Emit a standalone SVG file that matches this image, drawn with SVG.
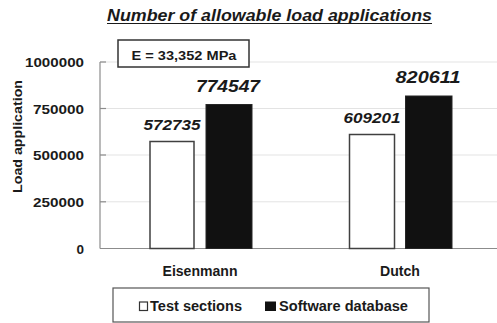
<svg xmlns="http://www.w3.org/2000/svg" width="497" height="323" viewBox="0 0 497 323">
<style>
text{font-family:"Liberation Sans",Arial,sans-serif;font-weight:bold;fill:#1a1a1a}
.grid{stroke:#e3e3e3;stroke-width:1}
.axis{stroke:#8c8c8c;stroke-width:1.2}
.tick{font-size:13.5px;text-anchor:end}
.val{font-style:italic;text-anchor:middle}
.white{fill:#ffffff;stroke:#404040;stroke-width:1.5}
.black{fill:#111111;stroke:#262626;stroke-width:1}
.cat{font-size:14px;text-anchor:middle}
</style>
<rect width="497" height="323" fill="#ffffff"/>
<g id="title">
<text x="269.5" y="21" font-size="16" font-style="italic" text-anchor="middle" textLength="325" lengthAdjust="spacingAndGlyphs">Number of allowable load applications</text>
<line x1="107" y1="23.5" x2="432" y2="23.5" stroke="#1a1a1a" stroke-width="1.2"/>
</g>
<g id="gridlines">
<line class="grid" x1="100" y1="62" x2="497" y2="62"/>
<line class="grid" x1="100" y1="108.5" x2="497" y2="108.5"/>
<line class="grid" x1="100" y1="155" x2="497" y2="155"/>
<line class="grid" x1="100" y1="201.8" x2="497" y2="201.8"/>
</g>
<g id="axes">
<line class="axis" x1="100" y1="62" x2="100" y2="248.5"/>
<line class="axis" x1="100" y1="248.5" x2="497" y2="248.5"/>
<line class="axis" x1="100" y1="62" x2="106" y2="62"/>
<line class="axis" x1="100" y1="108.5" x2="106" y2="108.5"/>
<line class="axis" x1="100" y1="155" x2="106" y2="155"/>
<line class="axis" x1="100" y1="201.8" x2="106" y2="201.8"/>
</g>
<g id="y-labels">
<text class="tick" x="84" y="67" textLength="59" lengthAdjust="spacingAndGlyphs">1000000</text>
<text class="tick" x="84" y="113.5" textLength="51" lengthAdjust="spacingAndGlyphs">750000</text>
<text class="tick" x="84" y="160" textLength="51" lengthAdjust="spacingAndGlyphs">500000</text>
<text class="tick" x="84" y="206.8" textLength="51" lengthAdjust="spacingAndGlyphs">250000</text>
<text class="tick" x="84" y="253.5">0</text>
<text transform="translate(21.5,136.5) rotate(-90)" font-size="13" text-anchor="middle" textLength="113" lengthAdjust="spacingAndGlyphs">Load application</text>
</g>
<g id="e-label">
<rect x="118" y="40" width="131" height="27" fill="#ffffff" stroke="#333333" stroke-width="1.5"/>
<text x="184" y="60" font-size="13.5" font-weight="normal" text-anchor="middle" textLength="105" lengthAdjust="spacingAndGlyphs" style="font-weight:600">E = 33,352 MPa</text>
</g>
<g id="bar-eisenmann-test">
<rect class="white" x="150" y="141.5" width="44" height="107"/>
<text class="val" x="172" y="130" font-size="15" textLength="57" lengthAdjust="spacingAndGlyphs">572735</text>
</g>
<g id="bar-eisenmann-software">
<rect class="black" x="206" y="104.5" width="46" height="144"/>
<text class="val" x="228" y="92" font-size="17" textLength="64" lengthAdjust="spacingAndGlyphs">774547</text>
</g>
<g id="bar-dutch-test">
<rect class="white" x="349.5" y="134.5" width="45" height="114"/>
<text class="val" x="372" y="123" font-size="15" textLength="57" lengthAdjust="spacingAndGlyphs">609201</text>
</g>
<g id="bar-dutch-software">
<rect class="black" x="405.5" y="96" width="46.5" height="152.5"/>
<text class="val" x="428" y="83" font-size="17" textLength="65" lengthAdjust="spacingAndGlyphs">820611</text>
</g>
<g id="x-labels">
<text class="cat" x="200" y="276" textLength="75" lengthAdjust="spacingAndGlyphs">Eisenmann</text>
<text class="cat" x="400" y="276" textLength="40" lengthAdjust="spacingAndGlyphs">Dutch</text>
</g>
<g id="legend">
<rect x="113" y="288" width="316" height="34" fill="#ffffff" stroke="#555555" stroke-width="1.2"/>
<rect x="139.5" y="302" width="8" height="8.5" fill="#ffffff" stroke="#333333" stroke-width="1.2"/>
<text x="150" y="310.5" font-size="14" textLength="92" lengthAdjust="spacingAndGlyphs">Test sections</text>
<rect x="265" y="301.5" width="11" height="9.5" fill="#111111"/>
<text x="279" y="310.5" font-size="14" textLength="129" lengthAdjust="spacingAndGlyphs">Software database</text>
</g>
</svg>
